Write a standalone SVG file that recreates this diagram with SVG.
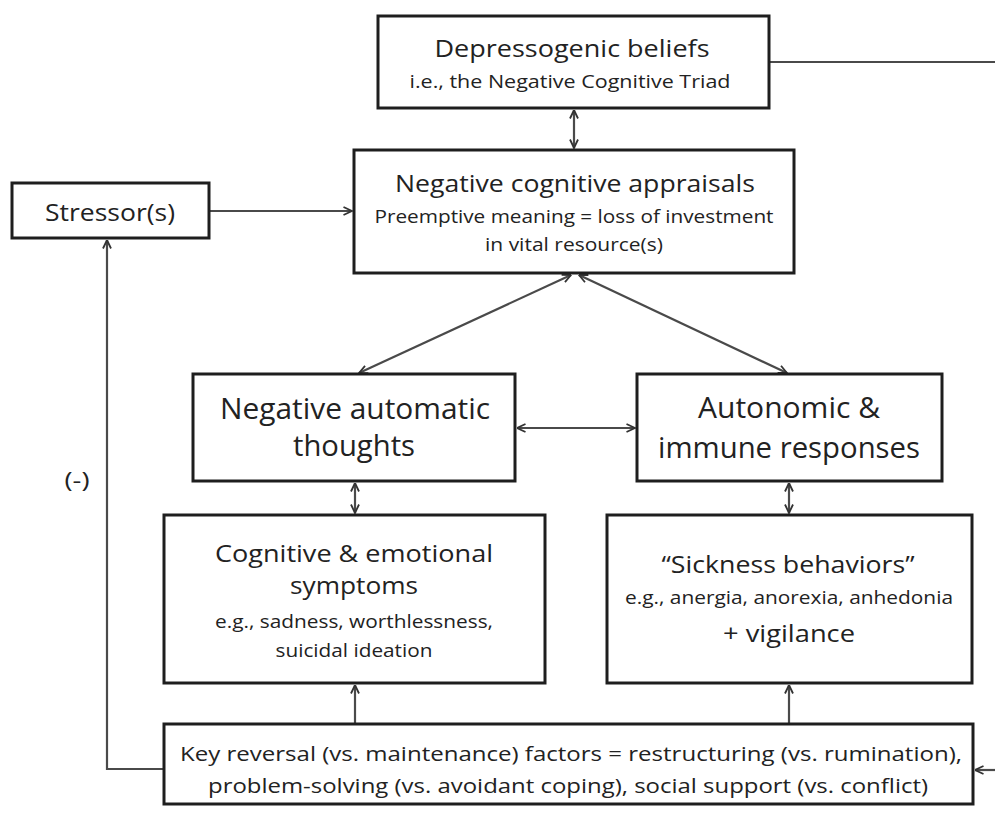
<svg xmlns="http://www.w3.org/2000/svg" width="995" height="815" viewBox="0 0 995 815">
<style>
.box{fill:#fff;stroke:#1e1e1e;stroke-width:3}
.t{font-family:"Open Sans","Liberation Sans",sans-serif;fill:#222;text-anchor:middle}
.h{font-size:24px}
.b{font-size:29px}
.s{font-size:19px}
.k{font-size:20px}
.c{fill:none;stroke:#4a4a4a;stroke-width:2.2}
.ar{marker-end:url(#ah)}
.da{marker-start:url(#ah);marker-end:url(#ah)}
</style>
<defs>
<marker id="ah" viewBox="0 0 10 10" refX="9.5" refY="5" markerWidth="10" markerHeight="10" markerUnits="userSpaceOnUse" orient="auto-start-reverse">
<path d="M1,1 L9.5,5 L1,9" fill="none" stroke="#333" stroke-width="1.8"/>
</marker>
</defs>
<rect width="995" height="815" fill="#fff"/>
<g id="connectors">
<line class="c" x1="769" y1="62" x2="995" y2="62"/>
<line class="c da" x1="574" y1="110" x2="574" y2="148"/>
<line class="c ar" x1="209" y1="211" x2="352" y2="211"/>
<line class="c da" x1="571" y1="275" x2="359" y2="373"/>
<line class="c da" x1="579" y1="275" x2="787" y2="373"/>
<line class="c da" x1="517" y1="428" x2="635" y2="428"/>
<line class="c da" x1="355" y1="483" x2="355" y2="513"/>
<line class="c da" x1="789" y1="483" x2="789" y2="513"/>
<line class="c ar" x1="355" y1="724" x2="355" y2="685"/>
<line class="c ar" x1="789" y1="724" x2="789" y2="685"/>
<polyline class="c ar" points="164,769 107,769 107,240"/>
<line class="c ar" x1="995" y1="770" x2="975" y2="770"/>
</g>
<g id="depressogenic">
<rect class="box" x="378" y="16" width="391" height="92"/>
<text class="t h" x="572" y="57" textLength="275" lengthAdjust="spacingAndGlyphs">Depressogenic beliefs</text>
<text class="t s" x="570" y="88" textLength="321" lengthAdjust="spacingAndGlyphs">i.e., the Negative Cognitive Triad</text>
</g>
<g id="appraisals">
<rect class="box" x="354" y="150" width="440" height="123"/>
<text class="t h" x="575" y="192" textLength="360" lengthAdjust="spacingAndGlyphs">Negative cognitive appraisals</text>
<text class="t s" x="574" y="223" textLength="399" lengthAdjust="spacingAndGlyphs">Preemptive meaning = loss of investment</text>
<text class="t s" x="574" y="251" textLength="178" lengthAdjust="spacingAndGlyphs">in vital resource(s)</text>
</g>
<g id="stressor">
<rect class="box" x="12" y="183" width="197" height="55"/>
<text class="t h" x="110" y="221" textLength="130" lengthAdjust="spacingAndGlyphs">Stressor(s)</text>
</g>
<text class="t" x="77" y="488" font-size="22" textLength="25" lengthAdjust="spacingAndGlyphs">(-)</text>
<g id="nat">
<rect class="box" x="193" y="374" width="322" height="107"/>
<text class="t b" x="355" y="419" textLength="270" lengthAdjust="spacingAndGlyphs">Negative automatic</text>
<text class="t b" x="354" y="456" textLength="122" lengthAdjust="spacingAndGlyphs">thoughts</text>
</g>
<g id="autonomic">
<rect class="box" x="637" y="374" width="305" height="107"/>
<text class="t b" x="789" y="418" textLength="182" lengthAdjust="spacingAndGlyphs">Autonomic &amp;</text>
<text class="t b" x="789" y="458" textLength="262" lengthAdjust="spacingAndGlyphs">immune responses</text>
</g>
<g id="cognitive">
<rect class="box" x="164" y="515" width="381" height="168"/>
<text class="t" font-size="23" x="354" y="562" textLength="278" lengthAdjust="spacingAndGlyphs">Cognitive &amp; emotional</text>
<text class="t" font-size="23" x="354" y="594" textLength="128" lengthAdjust="spacingAndGlyphs">symptoms</text>
<text class="t s" x="354" y="628" textLength="278" lengthAdjust="spacingAndGlyphs">e.g., sadness, worthlessness,</text>
<text class="t s" x="354" y="657" textLength="157" lengthAdjust="spacingAndGlyphs">suicidal ideation</text>
</g>
<g id="sickness">
<rect class="box" x="607" y="515" width="365" height="168"/>
<text class="t h" x="788" y="573" textLength="253" lengthAdjust="spacingAndGlyphs">“Sickness behaviors”</text>
<text class="t s" x="789" y="604" textLength="328" lengthAdjust="spacingAndGlyphs">e.g., anergia, anorexia, anhedonia</text>
<text class="t h" x="789" y="642" textLength="132" lengthAdjust="spacingAndGlyphs">+ vigilance</text>
</g>
<g id="reversal">
<rect class="box" x="164" y="724" width="809" height="80"/>
<text class="t k" x="571" y="761" textLength="782" lengthAdjust="spacingAndGlyphs">Key reversal (vs. maintenance) factors = restructuring (vs. rumination),</text>
<text class="t k" x="568" y="793" textLength="720" lengthAdjust="spacingAndGlyphs">problem-solving (vs. avoidant coping), social support (vs. conflict)</text>
</g>
</svg>
